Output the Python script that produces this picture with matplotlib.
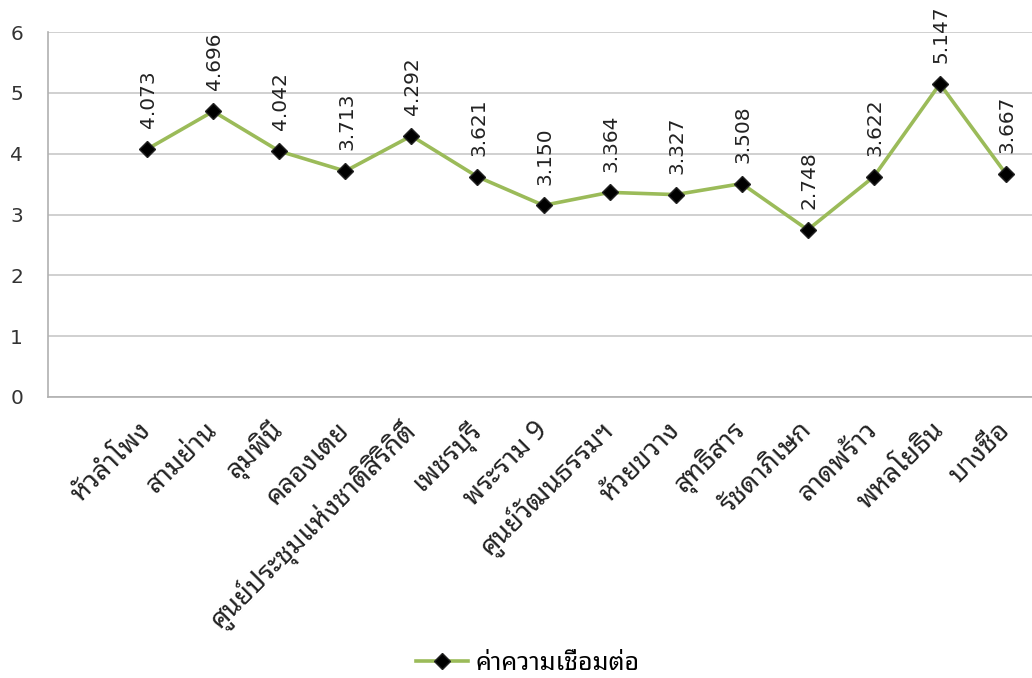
import matplotlib
matplotlib.use("Agg")
import matplotlib.pyplot as plt

# station names (x axis) and connectivity values
stations = ['หัวลำโพง', 'สามย่าน', 'ลุมพินี', 'คลองเตย', 'ศูนย์ประชุมแห่งชาติสิริกิติ์',
            'เพชรบุรี', 'พระราม 9', 'ศูนย์วัฒนธรรมฯ', 'ห้วยขวาง', 'สุทธิสาร',
            'รัชดาภิเษก', 'ลาดพร้าว', 'พหลโยธิน', 'บางซื่อ']
values = [4.073, 4.696, 4.042, 3.713, 4.292, 3.621, 3.150,
          3.364, 3.327, 3.508, 2.748, 3.622, 5.147, 3.667]
series_name = 'ค่าความเชื่อมต่อ'
y_ticks = [0, 1, 2, 3, 4, 5, 6]

thai_font = ['Noto Sans Thai Looped', 'DejaVu Sans']
plt.rcParams['font.family'] = thai_font

fig = plt.figure(figsize=(10.32, 6.78), dpi=100)
# plot area runs a bit past the right edge, like the cropped original
ax = fig.add_axes([48 / 1032, 281 / 678, 991 / 1032, 365 / 678])

x = list(range(len(stations)))
line, = ax.plot(x, values, color='#9bbb59', linewidth=2.6, marker='D',
                markersize=8, markerfacecolor='black', markeredgecolor='#222222',
                label=series_name, zorder=3)

for xi, v in zip(x, values):
    ax.annotate(f"{v:.3f}", (xi, v), xytext=(1, 15), textcoords='offset points',
                rotation=90, ha='center', va='bottom', fontsize=14.5,
                color='#222222', family=['DejaVu Sans'])

ax.set_xlim(-1.5, 13.5)
ax.set_ylim(0, 6)
ax.set_yticks(y_ticks)
ax.set_yticklabels([str(t) for t in y_ticks], family=['DejaVu Sans'],
                   fontsize=14.5, color='#333333')
ax.yaxis.grid(True, color='#c8c8c8', linewidth=1.2)
ax.set_axisbelow(True)

ax.set_xticks(x)
ax.set_xticklabels(stations, rotation=45, ha='right', va='center',
                   rotation_mode='anchor', fontsize=19.5, color='#222222')
ax.tick_params(axis='x', length=0, pad=21)
ax.tick_params(axis='y', length=0, pad=18)

for side in ['top', 'right']:
    ax.spines[side].set_visible(False)
for side in ['left', 'bottom']:
    ax.spines[side].set_color('#b0b0b0')
    ax.spines[side].set_linewidth(1.2)

fig.legend(handles=[line], loc='center', bbox_to_anchor=(528 / 1032, 1 - 663 / 678),
           frameon=False, fontsize=18, handlelength=2.1, handletextpad=0.3)

fig.savefig("out.png", dpi=100, facecolor='white')
